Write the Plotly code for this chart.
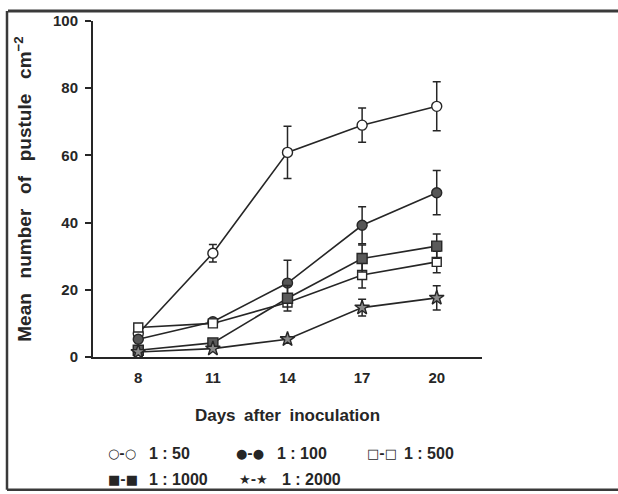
import plotly.graph_objects as go

days = [8, 11, 14, 17, 20]
day_labels = ["8", "11", "14", "17", "20"]

series_names = ["1 : 50", "1 : 100", "1 : 500", "1 : 1000", "1 : 2000"]
v_50 = [7.0, 30.9, 60.9, 69.0, 74.6]
e_50 = [0.0, 2.6, 7.8, 5.1, 7.3]
v_100 = [5.3, 10.5, 22.0, 39.2, 48.9]
e_100 = [0.0, 0.0, 6.8, 5.5, 6.6]
v_500 = [8.8, 10.0, 16.2, 24.4, 28.3]
e_500 = [0.0, 0.0, 0.0, 3.9, 3.2]
v_1000 = [2.0, 4.2, 17.5, 29.3, 33.0]
e_1000 = [0.0, 0.0, 3.8, 4.0, 3.6]
v_2000 = [1.5, 2.5, 5.3, 14.7, 17.6]
e_2000 = [0.0, 0.0, 0.0, 2.5, 3.6]

y_ticks = [0, 20, 40, 60, 80, 100]

INK = "#262626"
FONT = "Liberation Sans"

# layout geometry (pixels)
W, H = 618, 494
L, R, T, B = 93, 136, 18, 137
PW, PH = W - L - R, H - T - B


def px(x):
    return (x - L) / PW


def py(y):
    return (H - B - y) / PH


styles = [
    dict(symbol="circle", color="white", size=10),
    dict(symbol="circle", color="#555555", size=10),
    dict(symbol="square", color="white", size=9),
    dict(symbol="square", color="#5a5a5a", size=10),
    dict(symbol="star", color="#8a8a8a", size=11),
]
values = [v_50, v_100, v_500, v_1000, v_2000]
errors = [e_50, e_100, e_500, e_1000, e_2000]

fig = go.Figure()
for name, vals, errs, st in zip(series_names, values, errors, styles):
    fig.add_trace(go.Scatter(
        x=days, y=vals, name=name, mode="lines+markers",
        line=dict(color=INK, width=1.6),
        marker=dict(symbol=st["symbol"], size=st["size"], color=st["color"],
                    line=dict(color=INK, width=1.4)),
        error_y=dict(type="data", array=errs, visible=True, color=INK,
                     thickness=1.5, width=4),
        cliponaxis=False,
        showlegend=False,
    ))

GAP = "\u2002 "
y_title = GAP.join(["Mean", "number", "of", "pustule", "cm"]) + "<sup>−2</sup>"
x_title = "Days\u2002after\u2002inoculation"

fig.update_layout(
    width=W, height=H,
    margin=dict(l=L, r=R, t=T, b=B, pad=0),
    paper_bgcolor="white", plot_bgcolor="white",
    font=dict(family=FONT, size=15, color=INK, weight="bold"),
    xaxis=dict(range=[6.18, 21.82], tickvals=days, ticktext=day_labels,
               showgrid=False, zeroline=False, showline=True,
               linecolor=INK, linewidth=2, ticks="",
               ticklabelstandoff=6,
               tickfont=dict(family=FONT, size=15, color=INK, weight="bold"),
               title=dict(text=x_title, standoff=24,
                          font=dict(family=FONT, size=17, color=INK, weight="bold"))),
    yaxis=dict(range=[0, 100], tickvals=y_ticks,
               showgrid=False, zeroline=False, showline=True,
               linecolor=INK, linewidth=2, ticks="outside", ticklen=6,
               tickwidth=1.5, tickcolor=INK, ticklabelstandoff=4,
               tickfont=dict(family=FONT, size=15, color=INK, weight="bold"),
               title=dict(text=y_title, standoff=16,
                          font=dict(family=FONT, size=19, color=INK, weight="bold"))),
)

# legend (text key): symbol pair and label placed separately
legend_items = [
    ("○-○", series_names[0], 106, 147, 454),
    ("●-●", series_names[1], 234, 275, 454),
    ("□-□", series_names[2], 365, 402, 454),
    ("■-■", series_names[3], 106, 147, 481),
    ("★-★", series_names[4], 237, 280, 481),
]
for sym, lab, sx, lx, ly in legend_items:
    fig.add_annotation(
        text=sym, xref="paper", yref="paper", x=px(sx), y=py(ly),
        showarrow=False, xanchor="left", yanchor="middle",
        font=dict(family="DejaVu Sans", size=13, color=INK))
    fig.add_annotation(
        text=lab, xref="paper", yref="paper", x=px(lx), y=py(ly),
        showarrow=False, xanchor="left", yanchor="middle",
        font=dict(family=FONT, size=16, color=INK, weight="bold"))

# scanned frame lines
frame = [
    (8, 8, 618, 8, 3),
    (7, 8, 7, 491, 2.5),
    (7, 491, 618, 491, 2.5),
]
for x0, y0, x1, y1, w in frame:
    fig.add_shape(type="line", xref="paper", yref="paper",
                  x0=px(x0), y0=py(y0), x1=px(x1), y1=py(y1),
                  line=dict(color="#3a3a3a", width=w))

fig.write_html("out.html")
